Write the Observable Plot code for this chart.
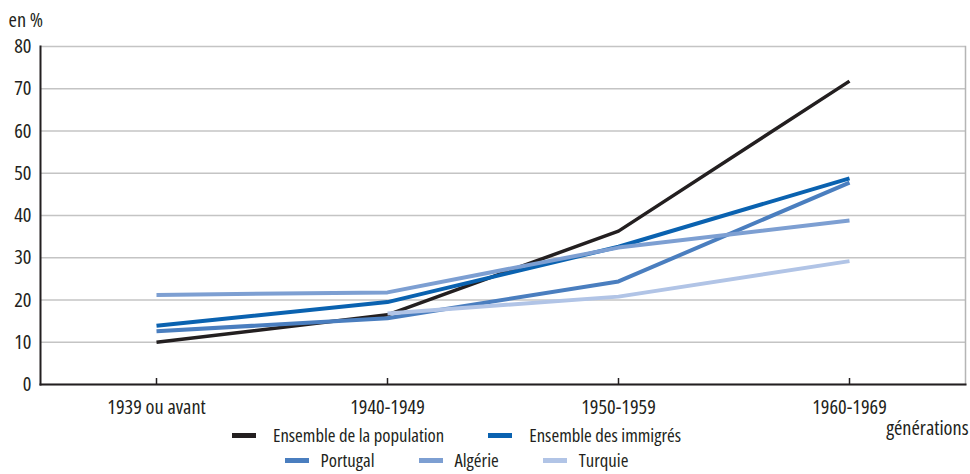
<!DOCTYPE html>
<html>
<head>
<meta charset="utf-8">
<script src="https://cdn.jsdelivr.net/npm/d3@7"></script>
<script src="https://cdn.jsdelivr.net/npm/@observablehq/plot@0.6"></script>
<style>
  html, body { margin: 0; padding: 0; background: #fff; }
  #wrap { position: relative; width: 970px; height: 474px; color: #231f20; }
  #wrap svg { position: absolute; left: 0; top: 0; }
  .legend { position: absolute; left: 0; width: 913px; display: flex; justify-content: center; align-items: center; line-height: 16px; height: 16px; white-space: nowrap; }
  .item { display: flex; align-items: center; }
  .sw { width: 24px; height: 5px; }
</style>
</head>
<body>
<div id="wrap"></div>
<script>
const generations = ["1939 ou avant", "1940-1949", "1950-1959", "1960-1969"];
const seriesNames = ["Ensemble de la population", "Ensemble des immigrés", "Portugal", "Algérie", "Turquie"];
const population = [10.0, 16.5, 36.3, 71.8];
const immigres   = [13.9, 19.5, 32.6, 48.8];
const portugal   = [12.6, 15.7, 24.4, 47.8];
const algerie    = [21.2, 21.8, 32.4, 38.8];
const turquie    = [null, 16.8, 20.8, 29.2];
const yTicks = [0, 10, 20, 30, 40, 50, 60, 70, 80];
const colors = ["#231f20", "#0a62b0", "#4a7ebf", "#7d9fd2", "#b1c4e6"];
const widths = [3.5, 4, 4, 4, 4];

// pick a condensed font available locally and calibrate its size
function measure(family, stretch, size, text) {
  const s = document.createElement("span");
  s.style.cssText = `position:absolute;visibility:hidden;white-space:nowrap;font-family:${family};font-stretch:${stretch};font-size:${size}px`;
  s.textContent = text;
  document.body.appendChild(s);
  const w = s.getBoundingClientRect().width;
  s.remove();
  return w;
}
const probe = "Ensemble de la population";
let fam = '"DejaVu Sans Condensed", sans-serif', stretch = "normal";
if (measure('"Liberation Sans Narrow"', "normal", 100, probe) < 0.9 * measure('"Liberation Sans"', "normal", 100, probe)) {
  fam = '"Liberation Sans Narrow", sans-serif';
} else if (measure('"Open Sans"', "75%", 100, probe) < 0.9 * measure('"Open Sans"', "100%", 100, probe)) {
  fam = '"Open Sans", sans-serif'; stretch = "75%";
}
const fs = Math.round(100 * 186 / measure(fam, stretch, 100, probe) * 10) / 10;
const legendFs = Math.round(fs * 0.92 * 10) / 10;

const seriesValues = [population, immigres, portugal, algerie, turquie];
const rows = [];
seriesNames.forEach((s, i) => {
  generations.forEach((g, j) => {
    const v = seriesValues[i][j];
    if (v != null) rows.push({serie: s, gen: g, value: v});
  });
});

const lineMarks = seriesNames.map((s, i) =>
  Plot.line(rows.filter(r => r.serie === s), {
    x: "gen", y: "value", stroke: colors[i], strokeWidth: widths[i],
    strokeLinejoin: "miter", strokeLinecap: "butt"
  })
);

const wrap = document.getElementById("wrap");
wrap.style.fontFamily = fam;
wrap.style.fontStretch = stretch;
wrap.style.fontSize = legendFs + "px";

const chart = Plot.plot({
  width: 970,
  height: 474,
  marginLeft: 40,
  marginRight: 5,
  marginTop: 46,
  marginBottom: 90,
  style: {fontFamily: fam, fontStretch: stretch, fontSize: fs + "px", color: "#231f20", background: "transparent"},
  x: {type: "point", domain: generations, padding: 0.5, label: null},
  y: {domain: [0, 80], label: null},
  marks: [
    Plot.gridY(yTicks, {stroke: "#c4c4c4", strokeOpacity: 1, strokeWidth: 1.5}),
    Plot.frame({anchor: "right", stroke: "#b5b5b5", strokeWidth: 1.5}),
    Plot.axisY(yTicks, {tickSize: 0, tickPadding: 9, fontSize: fs, fill: "#231f20"}),
    Plot.axisX({tickSize: 6, dy: -6, text: null, stroke: "#231f20", strokeWidth: 1.5}),
    Plot.axisX({tickSize: 0, tickPadding: 15, fontSize: fs, fill: "#231f20"}),
    ...lineMarks,
    Plot.frame({anchor: "left", stroke: "#231f20", strokeWidth: 2}),
    Plot.frame({anchor: "bottom", stroke: "#231f20", strokeWidth: 2}),
    Plot.text(["en %"], {frameAnchor: "top-left", dx: -32, dy: -26, textAnchor: "start", lineAnchor: "middle", fontSize: fs, fill: "#231f20"}),
    Plot.text(["générations"], {frameAnchor: "bottom-right", dx: 3, dy: 44, textAnchor: "end", lineAnchor: "middle", fontSize: fs, fill: "#231f20"})
  ]
});
wrap.appendChild(chart);

function legendRow(indices, top, textGap) {
  const row = document.createElement("div");
  row.className = "legend";
  row.style.top = top + "px";
  indices.forEach((i, k) => {
    const it = document.createElement("div");
    it.className = "item";
    if (k > 0) it.style.marginLeft = "44px";
    const sw = document.createElement("span");
    sw.className = "sw";
    sw.style.background = colors[i];
    sw.style.marginRight = textGap + "px";
    const tx = document.createElement("span");
    tx.textContent = seriesNames[i];
    it.appendChild(sw);
    it.appendChild(tx);
    row.appendChild(it);
  });
  wrap.appendChild(row);
}
legendRow([0, 1], 427, 17);
legendRow([2, 3, 4], 452, 12);
</script>
</body>
</html>
